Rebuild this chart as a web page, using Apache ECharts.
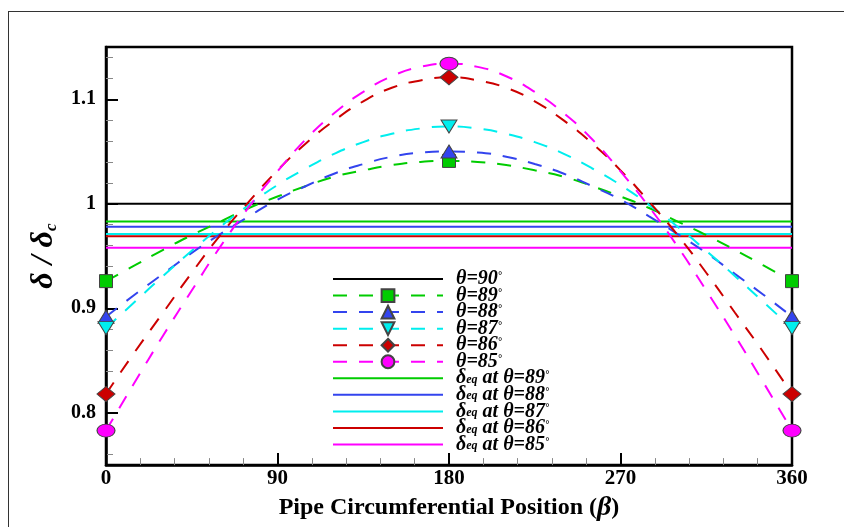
<!DOCTYPE html>
<html>
<head>
<meta charset="utf-8">
<script src="https://cdn.jsdelivr.net/npm/echarts@6/dist/echarts.min.js"></script>
<style>
  html, body { margin: 0; padding: 0; background: #fff; }
  #frame { position: absolute; left: 8px; top: 11px; width: 900px; height: 600px; border-left: 1.5px solid #333; border-top: 1.5px solid #333; }
  #main { position: absolute; left: 0; top: 0; width: 844px; height: 527px; }
</style>
</head>
<body>
<div id="frame"></div>
<div id="main"></div>
<script>
// ---- data ----
const betas = [0,15,30,45,60,75,90,105,120,135,150,165,180,195,210,225,240,255,270,285,300,315,330,345,360];
const markerBetas = [0, 180, 360];
const theta89 = [0.926,0.941,0.956,0.970,0.983,0.996,1.007,1.017,1.026,1.032,1.037,1.040,1.041,1.040,1.037,1.032,1.026,1.017,1.007,0.996,0.983,0.970,0.956,0.941,0.926];
const theta88 = [0.892,0.913,0.933,0.953,0.971,0.988,1.004,1.017,1.029,1.038,1.045,1.049,1.050,1.049,1.045,1.038,1.029,1.017,1.004,0.988,0.971,0.953,0.933,0.913,0.892];
const theta87 = [0.881,0.906,0.931,0.955,0.978,0.999,1.018,1.034,1.048,1.059,1.067,1.072,1.074,1.072,1.067,1.059,1.048,1.034,1.018,0.999,0.978,0.955,0.931,0.906,0.881];
const theta86 = [0.818,0.858,0.896,0.934,0.970,1.002,1.032,1.058,1.080,1.098,1.111,1.118,1.121,1.118,1.111,1.098,1.080,1.058,1.032,1.002,0.970,0.934,0.896,0.858,0.818];
const theta85 = [0.783,0.829,0.874,0.917,0.959,0.997,1.031,1.062,1.087,1.107,1.122,1.131,1.134,1.131,1.122,1.107,1.087,1.062,1.031,0.997,0.959,0.917,0.874,0.829,0.783];
const theta90Value = 1.0;
const eqAngles = ['89','88','87','86','85'];
const eqValues = [0.983, 0.978, 0.971, 0.969, 0.958];
const xTicks = [0, 90, 180, 270, 360];

// ---- styles ----
const curveDefs = [
  { name: 'θ=89°', vals: theta89, color: '#00cc00', symbol: 'rect', size: 13, rotate: 0 },
  { name: 'θ=88°', vals: theta88, color: '#3344ee', symbol: 'triangle', size: [16, 13], rotate: 0 },
  { name: 'θ=87°', vals: theta87, color: '#00eeee', symbol: 'triangle', size: [16, 13], rotate: 180 },
  { name: 'θ=86°', vals: theta86, color: '#cc0000', symbol: 'diamond', size: [18, 15], rotate: 0 },
  { name: 'θ=85°', vals: theta85, color: '#ff00ff', symbol: 'circle', size: [18, 13], rotate: 0 }
];
const eqColors = ['#00cc00', '#3344ee', '#00eeee', '#cc0000', '#ff00ff'];

const serif = 'Liberation Serif';
const noMark = { color: 'rgba(0,0,0,0)', borderWidth: 0 };

const series = [];
series.push({
  name: 'θ=90°', type: 'line', symbol: 'none', showSymbol: false, silent: true,
  data: [[xTicks[0], theta90Value], [xTicks[xTicks.length - 1], theta90Value]],
  lineStyle: { color: '#000', width: 2 }, itemStyle: noMark, z: 2
});
curveDefs.forEach(d => {
  series.push({
    name: d.name, type: 'line', smooth: true,
    symbol: d.symbol, symbolSize: d.size, symbolRotate: d.rotate, showSymbol: true,
    data: betas.map((b, i) => markerBetas.includes(b) ? [b, d.vals[i]] : { value: [b, d.vals[i]], symbol: 'none' }),
    lineStyle: { color: d.color, width: 2, type: [14, 12] },
    itemStyle: { color: d.color, borderColor: '#444', borderWidth: 1 },
    z: 3
  });
});
eqAngles.forEach((a, i) => {
  series.push({
    name: 'δeq at θ=' + a + '°', type: 'line', symbol: 'none', showSymbol: false,
    data: [[xTicks[0], eqValues[i]], [xTicks[xTicks.length - 1], eqValues[i]]],
    lineStyle: { color: eqColors[i], width: 2 }, itemStyle: noMark, z: 2
  });
});

const chart = echarts.init(document.getElementById('main'), null, { renderer: 'canvas' });
chart.setOption({
  animation: false,
  backgroundColor: 'transparent',
  grid: { left: 106, right: 52, top: 47, bottom: 54, show: true, borderColor: '#000', borderWidth: 2.5, backgroundColor: 'transparent' },
  legend: {
    orient: 'vertical', left: 327, top: 264,
    itemWidth: 110, itemHeight: 16, itemGap: -3.45,
    data: series.map(s => s.name),
    formatter: function (name) {
      if (name.indexOf('δeq') === 0) {
        const ang = name.replace('δeq at θ=', '').replace('°', '');
        return '{t|δ}{sub|eq}{t| at θ=' + ang + '}{deg|°}';
      }
      return '{t|' + name.replace('°', '') + '}{deg|°}';
    },
    textStyle: {
      fontFamily: serif, fontWeight: 'bold', fontStyle: 'italic', fontSize: 20, color: '#000', padding: [0, 0, 0, 8],
      rich: {
        t: { fontFamily: serif, fontWeight: 'bold', fontStyle: 'italic', fontSize: 20, lineHeight: 15, color: '#000' },
        sub: { fontFamily: serif, fontWeight: 'bold', fontStyle: 'italic', fontSize: 12, lineHeight: 8, verticalAlign: 'bottom', color: '#000' },
        deg: { fontFamily: serif, fontWeight: 'bold', fontSize: 10, lineHeight: 8, verticalAlign: 'top', color: '#000' }
      }
    }
  },
  xAxis: {
    type: 'value', min: 0, max: 360, interval: 90,
    axisLine: { show: true, lineStyle: { color: '#000', width: 2.5 } },
    axisTick: { show: true, inside: true, length: 12, lineStyle: { color: '#000', width: 2 } },
    minorTick: { show: true, splitNumber: 5, length: 7, lineStyle: { color: '#888', width: 1 } },
    splitLine: { show: false },
    axisLabel: { fontFamily: serif, fontWeight: 'bold', fontSize: 21, color: '#000', margin: 3 },
    name: '{t|Pipe Circumferential Position (}{b|β}{t|)}',
    nameLocation: 'middle', nameGap: 22,
    nameTextStyle: {
      rich: {
        t: { fontFamily: serif, fontWeight: 'bold', fontSize: 24, color: '#000' },
        b: { fontFamily: serif, fontWeight: 'bold', fontStyle: 'italic', fontSize: 28, color: '#000' }
      }
    }
  },
  yAxis: {
    type: 'value', min: 0.75, max: 1.15,
    axisLine: { show: true, lineStyle: { color: '#000', width: 2.5 } },
    axisTick: { show: true, inside: true, length: 12, lineStyle: { color: '#000', width: 2 } },
    minorTick: { show: true, splitNumber: 5, length: 7, lineStyle: { color: '#888', width: 1 } },
    splitLine: { show: false },
    axisLabel: {
      fontFamily: serif, fontWeight: 'bold', fontSize: 20, color: '#000', margin: 10,
      formatter: function (v) {
        const r = Math.round(v * 10) / 10;
        return Math.abs(v - r) < 1e-6 ? String(r) : '';
      }
    },
    name: '{d|δ / δ}{c|c}',
    nameLocation: 'middle', nameRotate: 90, nameGap: 44,
    nameTextStyle: {
      rich: {
        d: { fontFamily: serif, fontWeight: 'bold', fontStyle: 'italic', fontSize: 32, color: '#000' },
        c: { fontFamily: serif, fontWeight: 'bold', fontStyle: 'italic', fontSize: 17, verticalAlign: 'bottom', color: '#000' }
      }
    }
  },
  series: series
});
</script>
</body>
</html>
